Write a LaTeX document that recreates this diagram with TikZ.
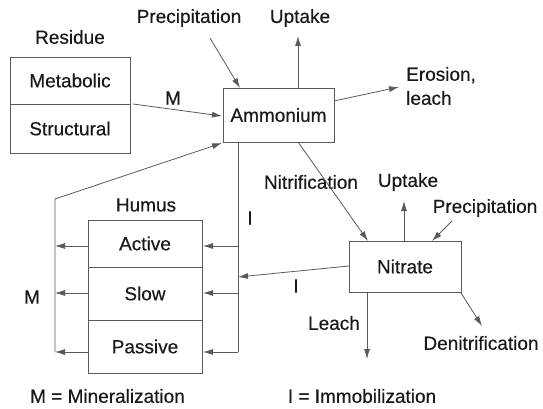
\documentclass[tikz,border=0pt]{standalone}
\usepackage{fontspec}
\setmainfont[FakeBold=0.4]{Liberation Sans}
\usetikzlibrary{arrows.meta}
\begin{document}
\begin{tikzpicture}[x=1pt,y=-1pt,
  every node/.style={font=\fontsize{19}{24}\selectfont, inner sep=0pt, text=black!90},
  pool/.style={draw=black!65, line width=0.8pt},
  lbl/.style={},
  flow/.style={draw=black!65, line width=0.8pt},
  arr/.style={flow, -{Latex[length=10pt,width=6pt]}}]
\useasboundingbox (0,0) rectangle (543,409);

% residue pools
\node[pool, minimum width=120pt, minimum height=47pt] (met) at (70,80.5) {Metabolic};
\node[pool, minimum width=120pt, minimum height=49pt] (str) at (70,128.5) {Structural};
\node[lbl] (res) at (70,37) {Residue};

% mineral N pools
\node[pool, minimum width=111pt, minimum height=54pt] (amm) at (278.5,115) {Ammonium};
\node[pool, minimum width=112pt, minimum height=51pt] (nit) at (405,266.5) {Nitrate};

% humus pools
\node[pool, minimum width=114pt, minimum height=47pt] (act) at (145,243.5) {Active};
\node[pool, minimum width=114pt, minimum height=53pt] (slo) at (145,293.5) {Slow};
\node[pool, minimum width=114pt, minimum height=53pt] (pas) at (145,346.5) {Passive};
\node[lbl] (hum) at (146,205) {Humus};

% external sources and sinks
\node[lbl] (pr1) at (189,18) {Precipitation};
\node[lbl] (up1) at (300,18) {Uptake};
\node[lbl, align=left, anchor=west] (ero) at (406,86) {Erosion,\\leach};
\node[lbl] (ntf) at (311,182) {Nitrification};
\node[lbl] (up2) at (408,182) {Uptake};
\node[lbl] (pr2) at (485,208) {Precipitation};
\node[lbl] (lea) at (334,323) {Leach};
\node[lbl] (den) at (481,343) {Denitrification};

% flow labels
\node[lbl] (m1) at (173,98) {M};
\node[lbl] (m2) at (32,297) {M};
\node[lbl] (i1) at (250,218) {I};
\node[lbl] (i2) at (296,286) {I};
\node[lbl] (kM) at (107.5,396) {M = Mineralization};
\node[lbl] (kI) at (362,396) {I = Immobilization};

% free ends of flows
\coordinate (p1a) at (210,38);
\coordinate (u1b) at (298,36);
\coordinate (erb) at (399,87);
\coordinate (u2b) at (404,201);
\coordinate (p2a) at (452,221);
\coordinate (leb) at (367,359);
\coordinate (deb) at (482,326);
\coordinate (mtop) at (55,199);
\coordinate (mbot) at (55,352);
\coordinate (itop) at (238,142);
\coordinate (ibot) at (238,352);

% ammonium fluxes
\draw[arr] (p1a) -- (240,88);
\draw[arr] (298,88) -- (u1b);
\draw[arr] (334,101) -- (erb);
\draw[arr] (133,104) -- (222,116);
\draw[arr] (298,142) -- (368,241);

% nitrate fluxes
\draw[arr] (404,241) -- (u2b);
\draw[arr] (p2a) -- (432,241);
\draw[arr] (367,292) -- (leb);
\draw[arr] (461,293) -- (deb);
\draw[arr] (349,266) -- (238,277);

% mineralization of humus
\draw[arr] (mbot) -- (mtop) -- (222,143);
\draw[arr] (88,246) -- (mtop |- 0,246);
\draw[arr] (88,293) -- (mtop |- 0,293);
\draw[arr] (88,352) -- (mbot);

% immobilization into humus
\draw[flow] (itop) -- (ibot);
\draw[arr] (itop |- 0,246) -- (203,246);
\draw[arr] (itop |- 0,293) -- (203,293);
\draw[arr] (ibot) -- (203,352);
\end{tikzpicture}
\end{document}
